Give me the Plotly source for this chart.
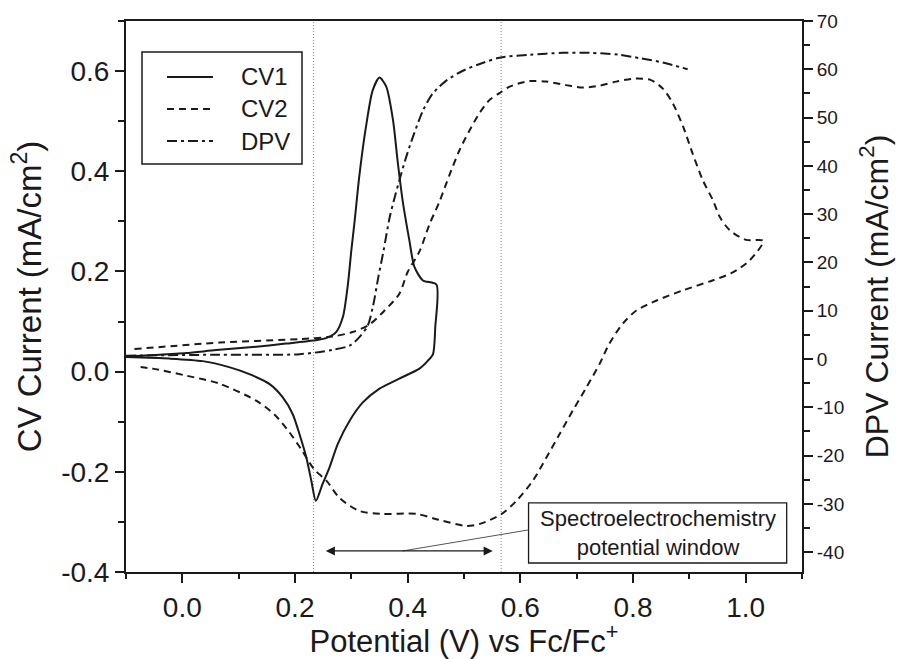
import plotly.graph_objects as go

# ---------------- data ----------------
cv1_x = [-0.100, -0.050, 0.007, 0.060, 0.125, 0.184, 0.232, 0.255, 0.273, 0.285, 0.294,
         0.300, 0.306, 0.314, 0.326, 0.338, 0.350, 0.362, 0.374, 0.382, 0.391, 0.403,
         0.412, 0.427, 0.451, 0.449, 0.445, 0.436, 0.421, 0.385, 0.350, 0.320, 0.297,
         0.276, 0.261, 0.249, 0.237, 0.229, 0.220, 0.208, 0.196, 0.178, 0.155, 0.119,
         0.083, 0.036, -0.023, -0.100]
cv1_y = [0.030, 0.033, 0.037, 0.043, 0.049, 0.056, 0.062, 0.067, 0.079, 0.109, 0.175,
         0.242, 0.302, 0.389, 0.489, 0.562, 0.587, 0.569, 0.502, 0.422, 0.342, 0.262,
         0.209, 0.182, 0.174, 0.089, 0.035, 0.022, 0.006, -0.014, -0.034, -0.062, -0.098,
         -0.144, -0.192, -0.224, -0.258, -0.218, -0.171, -0.125, -0.085, -0.051, -0.025, -0.005,
         0.009, 0.021, 0.026, 0.029]

cv2_x = [-0.085, 0.066, 0.208, 0.266, 0.302, 0.332, 0.359, 0.385, 0.400, 0.421, 0.439,
         0.456, 0.474, 0.492, 0.510, 0.528, 0.545, 0.563, 0.581, 0.616, 0.646, 0.681,
         0.711, 0.741, 0.770, 0.803, 0.832, 0.853, 0.871, 0.889, 0.906, 0.924, 0.942,
         0.954, 0.972, 1.001, 1.031, 1.007, 0.977, 0.941, 0.888, 0.842, 0.806, 0.782,
         0.758, 0.741, 0.717, 0.693, 0.670, 0.646, 0.622, 0.593, 0.567, 0.528, 0.504,
         0.456, 0.415, 0.355, 0.314, 0.279, 0.256, 0.234, 0.211, 0.190, 0.163, 0.131,
         0.066, 0.007, -0.053, -0.082]
cv2_y = [0.045, 0.058, 0.065, 0.070, 0.079, 0.094, 0.122, 0.155, 0.199, 0.240, 0.295,
         0.338, 0.392, 0.442, 0.482, 0.517, 0.542, 0.556, 0.569, 0.580, 0.579, 0.572,
         0.567, 0.571, 0.579, 0.585, 0.582, 0.565, 0.535, 0.489, 0.435, 0.382, 0.342,
         0.309, 0.282, 0.263, 0.261, 0.222, 0.198, 0.182, 0.162, 0.142, 0.122, 0.096,
         0.056, 0.016, -0.032, -0.078, -0.124, -0.172, -0.218, -0.258, -0.284, -0.304, -0.308,
         -0.296, -0.284, -0.284, -0.278, -0.252, -0.218, -0.195, -0.155, -0.121, -0.085, -0.058,
         -0.024, -0.008, 0.006, 0.010]

dpv_x = [-0.100, 0.066, 0.208, 0.267, 0.297, 0.314, 0.329, 0.338, 0.348, 0.357, 0.368,
         0.377, 0.385, 0.397, 0.409, 0.427, 0.444, 0.468, 0.498, 0.528, 0.563,
         0.616, 0.675, 0.723, 0.776, 0.812, 0.853, 0.897]
dpv_y = [0.7, 0.9, 1.0, 1.9, 2.8, 4.5, 6.9, 10.7, 17.0, 22.3, 29.3,
         33.5, 36.9, 41.7, 45.9, 51.4, 54.9, 57.6, 59.7, 61.1, 62.4,
         63.0, 63.4, 63.4, 63.0, 62.3, 61.4, 60.0]

series_names = ["CV1", "CV2", "DPV"]

x_ticks = [0.0, 0.2, 0.4, 0.6, 0.8, 1.0]
x_ticktext = ["0.0", "0.2", "0.4", "0.6", "0.8", "1.0"]
y_ticks = [-0.4, -0.2, 0.0, 0.2, 0.4, 0.6]
y_ticktext = ["-0.4", "-0.2", "0.0", "0.2", "0.4", "0.6"]
y2_ticks = [-40, -30, -20, -10, 0, 10, 20, 30, 40, 50, 60, 70]
y2_ticktext = ["-40", "-30", "-20", "-10", "0", "10", "20", "30", "40", "50", "60", "70"]

window_edges = [0.233, 0.566]          # dotted lines: spectroelectrochemistry window
arrow_span = [0.252, 0.551]
arrow_level = -0.358
note_text = "Spectroelectrochemistry<br>potential window"

# ---------------- styling ----------------
FONT = "Liberation Sans, Arial, sans-serif"
INK = "#1a1a1a"
styles = {
    "CV1": dict(dash="solid"),
    "CV2": dict(dash="7px,5px"),
    "DPV": dict(dash="10px,4px,3px,4px"),
}

fig = go.Figure()
fig.add_trace(go.Scatter(x=cv1_x, y=cv1_y, name=series_names[0], mode="lines",
                         line=dict(color=INK, width=2, shape="spline", smoothing=0.7,
                                   dash=styles["CV1"]["dash"]), showlegend=False))
fig.add_trace(go.Scatter(x=cv2_x, y=cv2_y, name=series_names[1], mode="lines",
                         line=dict(color=INK, width=2, shape="spline", smoothing=0.8,
                                   dash=styles["CV2"]["dash"]), showlegend=False))
fig.add_trace(go.Scatter(x=dpv_x, y=dpv_y, name=series_names[2], mode="lines", yaxis="y2",
                         line=dict(color=INK, width=2, shape="spline", smoothing=0.8,
                                   dash=styles["DPV"]["dash"]), showlegend=False))

W, H = 897, 659
ML, MR, MT, MB = 126, 95, 21, 87
PW, PH = W - ML - MR, H - MT - MB


def px(xp):
    return (xp - ML) / PW


def py(yp):
    return (H - MB - yp) / PH


shapes = []
for xv in window_edges:
    shapes.append(dict(type="line", xref="x", yref="paper", x0=xv, x1=xv, y0=0, y1=1,
                       line=dict(color="#888888", width=1, dash="1px,2px"), layer="below"))

# manual legend
shapes.append(dict(type="rect", xref="paper", yref="paper", x0=px(142), x1=px(302),
                   y0=py(164), y1=py(52), line=dict(color=INK, width=1.5),
                   fillcolor="white"))
annotations = []
rows = [77, 109, 141]
for name, ry in zip(series_names, rows):
    shapes.append(dict(type="line", xref="paper", yref="paper", x0=px(167), x1=px(213),
                       y0=py(ry), y1=py(ry), line=dict(color=INK, width=2, dash=styles[name]["dash"])))
    annotations.append(dict(xref="paper", yref="paper", x=px(239), y=py(ry), text=name,
                            showarrow=False, xanchor="left", yanchor="middle",
                            font=dict(family=FONT, size=24, color=INK)))

# note box + connector
shapes.append(dict(type="rect", xref="x", yref="y", x0=0.6146, x1=1.0728, y0=-0.382, y1=-0.262,
                   line=dict(color=INK, width=1.3), fillcolor="white"))
shapes.append(dict(type="line", xref="x", yref="y", x0=0.391, y0=arrow_level, x1=0.6146, y1=-0.316,
                   line=dict(color="#555555", width=1)))
annotations.append(dict(xref="x", yref="y", x=(0.6146 + 1.0728) / 2, y=-0.322, text=note_text,
                        showarrow=False, align="center",
                        font=dict(family=FONT, size=22, color=INK)))
annotations.append(dict(xref="x", yref="y", x=arrow_span[1], y=arrow_level,
                        ax=arrow_span[0], ay=arrow_level, axref="x", ayref="y", text="",
                        showarrow=True, arrowside="end+start", arrowhead=2, arrowsize=1.4,
                        arrowwidth=1.3, arrowcolor=INK))

axis_common = dict(showline=True, linecolor=INK, linewidth=2, ticks="outside",
                   tickcolor=INK, tickwidth=2, showgrid=False, zeroline=False,
                   automargin=False)

fig.update_layout(
    width=W, height=H,
    margin=dict(l=ML, r=MR, t=MT, b=MB),
    paper_bgcolor="white", plot_bgcolor="white",
    font=dict(family=FONT, color=INK),
    shapes=shapes, annotations=annotations,
    xaxis=dict(range=[-0.1, 1.1], tickvals=x_ticks, ticktext=x_ticktext, ticklen=9,
               mirror=True, tickfont=dict(size=28),
               minor=dict(dtick=0.1, tick0=0, ticklen=5, tickwidth=2, tickcolor=INK, ticks="outside"),
               title=dict(text="Potential (V) vs Fc/Fc<sup>+</sup>", font=dict(size=31), standoff=17),
               **axis_common),
    yaxis=dict(range=[-0.4, 0.7], tickvals=y_ticks, ticktext=y_ticktext, ticklen=9,
               tickfont=dict(size=28),
               minor=dict(dtick=0.1, tick0=0, ticklen=6, tickwidth=2, tickcolor=INK, ticks="outside"),
               title=dict(text="CV Current (mA/cm<sup>2</sup>)", font=dict(size=33), standoff=10),
               **axis_common),
    yaxis2=dict(range=[-44.1, 70], tickvals=y2_ticks, ticktext=y2_ticktext, ticklen=9,
                overlaying="y", side="right", tickfont=dict(size=19),
                minor=dict(dtick=5, tick0=0, ticklen=6, tickwidth=2, tickcolor=INK, ticks="outside"),
                title=dict(text="DPV Current (mA/cm<sup>2</sup>)", font=dict(size=32), standoff=22),
                **axis_common),
)

fig.write_html("out.html")
